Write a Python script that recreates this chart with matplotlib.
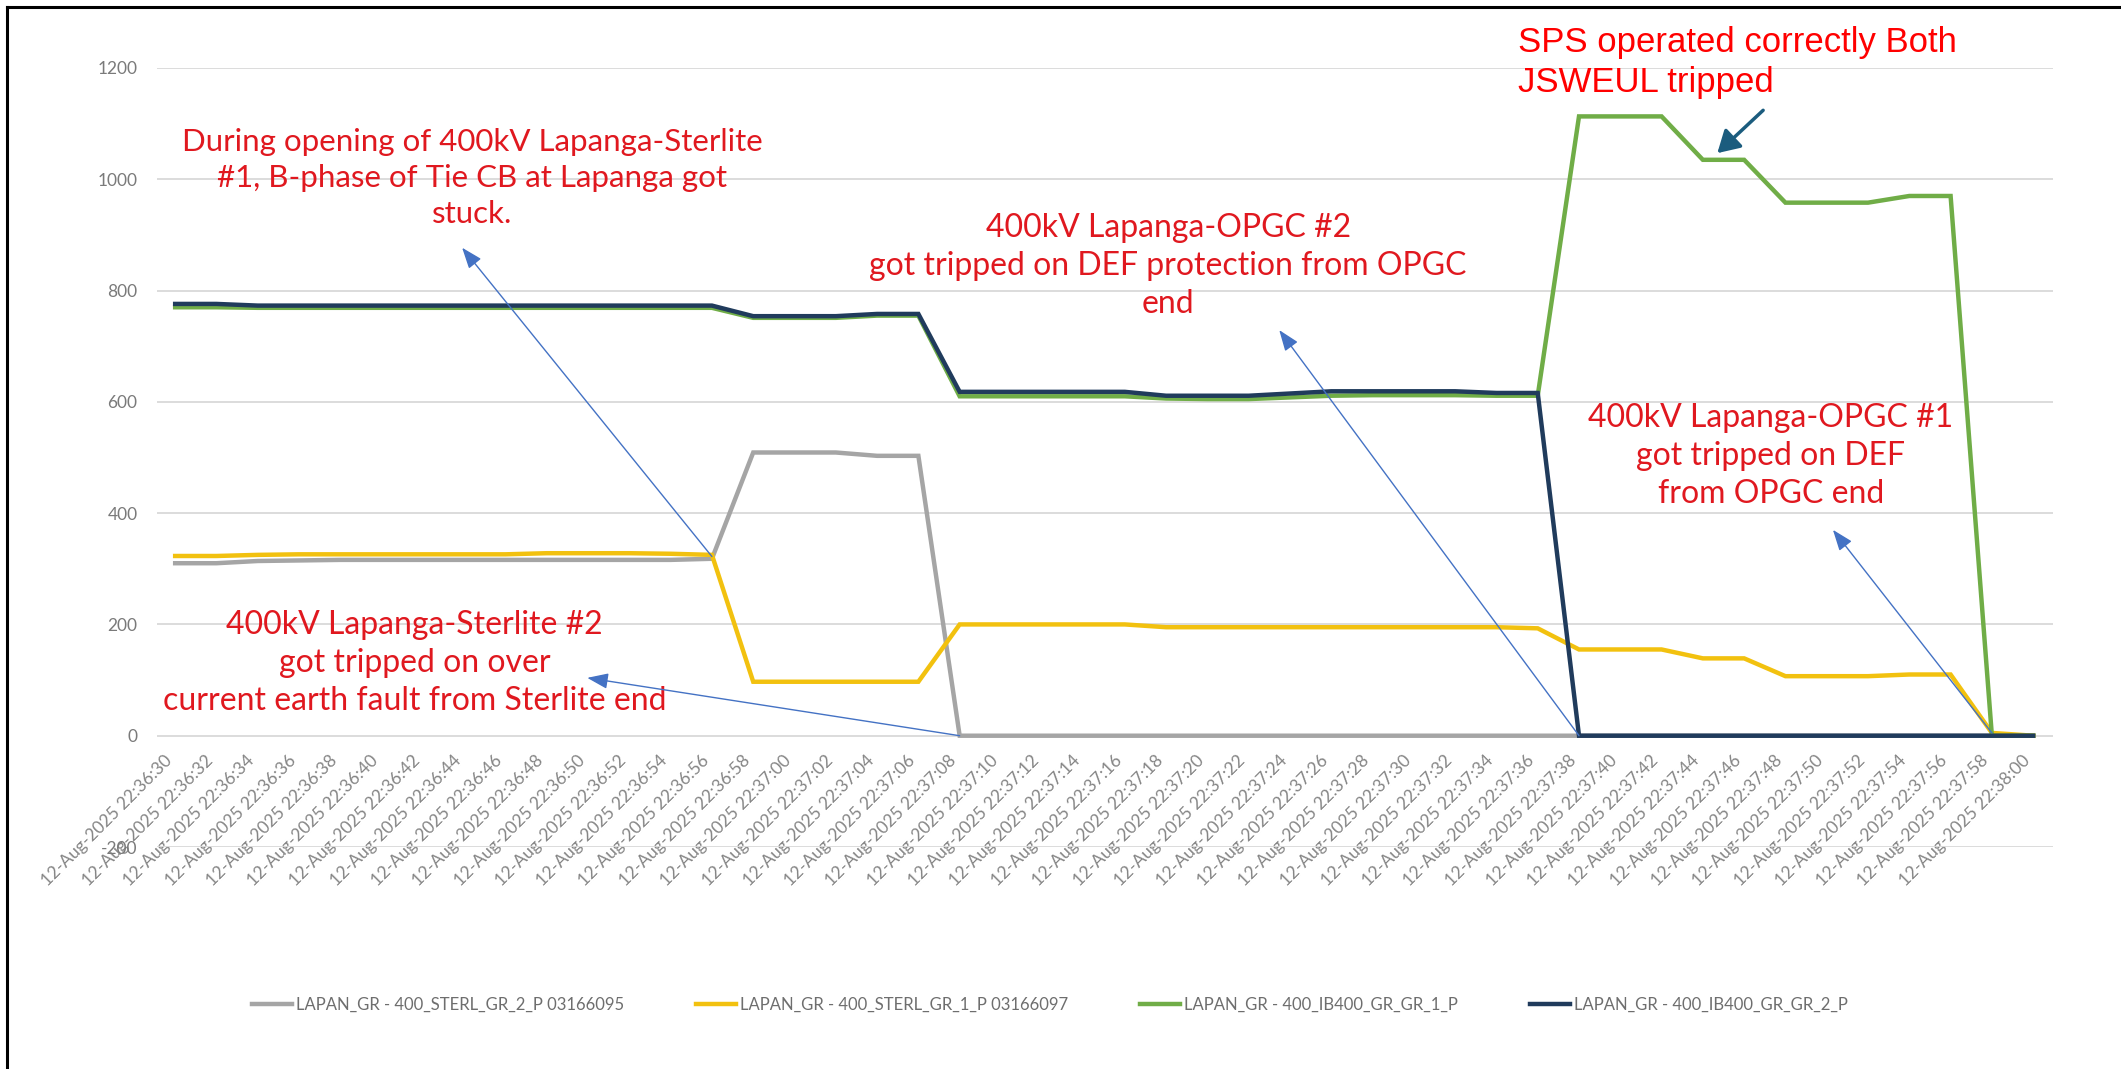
#Lapanga 400kV line flows during the 12-Aug-2025 event
import matplotlib
matplotlib.use("Agg")
import matplotlib.pyplot as plt
from matplotlib.lines import Line2D

#Categories (one sample every 2 s)
times = ["12-Aug-2025 22:%02d:%02d" % (36 + (30 + 2 * i) // 60, (30 + 2 * i) % 60) for i in range(46)]

#Series values (MW)
sterl_2 = [310, 310, 314, 315, 316, 316, 316, 316, 316, 316, 316, 316, 316, 318,
           509, 509, 509, 503, 503, 0, 0, 0, 0, 0, 0, 0, 0, 0, 0, 0, 0, 0, 0, 0,
           0, 0, 0, 0, 0, 0, 0, 0, 0, 0, 0, 0]
sterl_1 = [323, 323, 325, 326, 326, 326, 326, 326, 326, 328, 328, 328, 327, 325,
           97, 97, 97, 97, 97, 200, 200, 200, 200, 200, 195, 195, 195, 195, 195, 195,
           195, 195, 195, 193, 155, 155, 155, 139, 139, 107, 107, 107, 110, 110, 5, 0]
ib400_1 = [770, 770, 769, 769, 769, 769, 769, 769, 769, 769, 769, 769, 769, 769,
           751, 751, 751, 755, 755, 610, 610, 610, 610, 610, 606, 605, 605, 608, 611,
           612, 612, 612, 611, 611, 1113, 1113, 1113, 1035, 1035, 958, 958, 958, 970,
           970, 0, 0]
ib400_2 = [776, 776, 773, 773, 773, 773, 773, 773, 773, 773, 773, 773, 773, 773,
           754, 754, 754, 758, 758, 618, 618, 618, 618, 618, 611, 611, 611, 615, 619,
           619, 619, 619, 616, 616, 0, 0, 0, 0, 0, 0, 0, 0, 0, 0, 0, 0]

names = ["LAPAN_GR - 400_STERL_GR_2_P 03166095",
         "LAPAN_GR - 400_STERL_GR_1_P 03166097",
         "LAPAN_GR - 400_IB400_GR_GR_1_P",
         "LAPAN_GR - 400_IB400_GR_GR_2_P"]
colors = ["#A5A5A5", "#F2C10F", "#70AD47", "#203B5C"]

yticks = [-200, 0, 200, 400, 600, 800, 1000, 1200]

plt.rcParams['font.family'] = ['Lato', 'DejaVu Sans']
plt.rcParams['axes.unicode_minus'] = False

fig = plt.figure(figsize=(21.21, 10.69), dpi=100)
ax = fig.add_axes([157 / 2121, 1 - 847 / 1069, (2053 - 157) / 2121, (847 - 68) / 1069])

#x axis labels sit on the zero line, like the Excel chart
for s in ax.spines.values():
    s.set_visible(False)
ax.spines['bottom'].set_position(('data', 0))

x = list(range(len(times)))
for ys, c, n in zip([sterl_2, sterl_1, ib400_1, ib400_2], colors, names):
    ax.plot(x, ys, color=c, lw=3.2, label=n, solid_joinstyle='miter')

ax.set_xlim(-0.44, 45.48)
ax.set_ylim(-200, 1200)
ax.set_yticks(yticks)
ax.set_xticks(x)
ax.set_xticklabels(times)
ax.grid(axis='y', color='#D9D9D9', lw=1.3)
ax.set_axisbelow(True)
ax.tick_params(axis='x', length=0, pad=12, labelsize=12.5, labelcolor='#858585', labelrotation=45)
ax.tick_params(axis='y', length=0, pad=14, labelsize=12.5, labelcolor='#7A7A7A')
for lab in ax.get_xticklabels():
    lab.set_ha('right')

#Red notes
red = '#E0181F'
note = dict(color=red, fontsize=23, ha='center', va='center', linespacing=1.33)
ax.text(7.2, 1002, "During opening of 400kV Lapanga-Sterlite\n#1, B-phase of Tie CB at Lapanga got\nstuck.",
        color=red, fontsize=22.5, ha='center', va='center', linespacing=1.35)
ax.text(5.8, 131, "400kV Lapanga-Sterlite #2\ngot tripped on over\ncurrent earth fault from Sterlite end", **note)
ax.text(24.05, 844, "400kV Lapanga-OPGC #2\ngot tripped on DEF protection from OPGC\nend", **note)
ax.text(38.65, 503, "400kV Lapanga-OPGC #1\ngot tripped on DEF\nfrom OPGC end", **note)
ax.text(32.53, 1210, "SPS operated correctly Both\nJSWEUL tripped", color='#FF0000', fontsize=25,
        ha='left', va='center', linespacing=1.3, family=['Liberation Sans', 'DejaVu Sans'],
        clip_on=False)

#Pointer arrows
thin = dict(arrowstyle='-|>,head_length=0.8,head_width=0.3', color='#4472C4', lw=1.0,
            mutation_scale=16, shrinkA=0, shrinkB=0)
ax.annotate("", xy=(6.95, 877), xytext=(13, 322), arrowprops=thin)
ax.annotate("", xy=(9.98, 104), xytext=(19, 0), arrowprops=thin)
ax.annotate("", xy=(26.74, 729), xytext=(34, 0), arrowprops=thin)
ax.annotate("", xy=(40.15, 370), xytext=(44, 5), arrowprops=thin)
ax.annotate("", xy=(37.35, 1047), xytext=(38.46, 1124), annotation_clip=False,
            arrowprops=dict(arrowstyle='-|>,head_length=0.6,head_width=0.35', color='#1B5C7E',
                            lw=2.5, mutation_scale=22, shrinkA=0, shrinkB=0))

#Legend below the chart
fig.legend(loc='center', bbox_to_anchor=(0.495, 1 - 1005 / 1069), ncol=4, frameon=False,
           fontsize=12, labelcolor='#6E6E6E', handlelength=2.4, handletextpad=0.25,
           columnspacing=4.3)

#Black frame on left and top
fig.add_artist(Line2D([7 / 2121, 7 / 2121], [0, 1 - 7 / 1069], color='black', lw=2.2))
fig.add_artist(Line2D([7 / 2121, 1], [1 - 7 / 1069, 1 - 7 / 1069], color='black', lw=2.2))

fig.savefig("out.png", dpi=100)
